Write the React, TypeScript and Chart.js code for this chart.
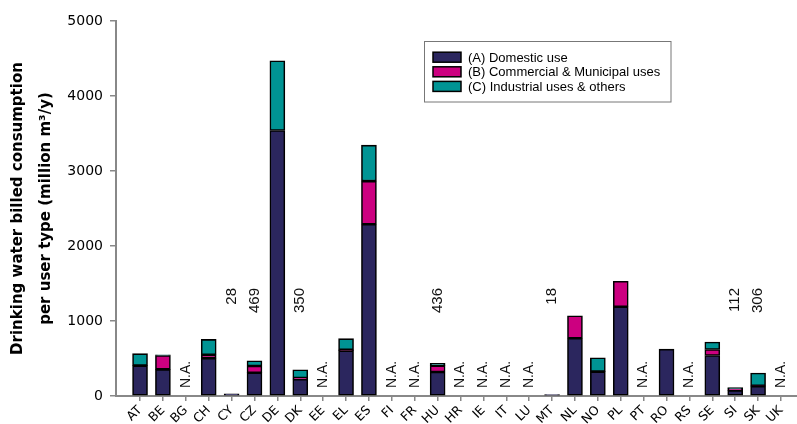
import React, { useEffect, useRef } from 'react';
import { Chart, registerables } from 'chart.js';

Chart.register(...registerables);

const categories = ['AT', 'BE', 'BG', 'CH', 'CY', 'CZ', 'DE', 'DK', 'EE', 'EL', 'ES', 'FI', 'FR', 'HU', 'HR', 'IE', 'IT', 'LU', 'MT', 'NL', 'NO', 'PL', 'PT', 'RO', 'RS', 'SE', 'SI', 'SK', 'UK'];
const domestic = [405, 355, null, 505, 28, 311, 3540, 225, null, 605, 2290, null, null, 320, null, null, null, null, 18, 770, 325, 1190, null, 625, null, 540, 75, 130, null];
const commercial = [0, 185, null, 45, 0, 89, 0, 15, null, 10, 575, null, null, 85, null, null, null, null, 0, 300, 0, 340, null, 0, null, 80, 20, 6, null];
const industrial = [160, 8, null, 205, 0, 69, 930, 110, null, 150, 480, null, null, 31, null, null, null, null, 0, 0, 185, 0, null, 0, null, 100, 17, 170, null];

const naCountries = ['BG', 'EE', 'FI', 'FR', 'HR', 'IE', 'IT', 'LU', 'PT', 'RS', 'UK'];
const noteCountries = ['CY', 'CZ', 'DK', 'HU', 'MT', 'SI', 'SK'];
const noteTexts = ['28', '469', '350', '436', '18', '112', '306'];

const yTicks = [0, 1000, 2000, 3000, 4000, 5000];
const seriesNames = ['(A) Domestic use', '(B) Commercial & Municipal uses', '(C) Industrial uses & others'];
const seriesColors = ['#2B265E', '#CC0080', '#009494'];
const yTitle = ['Drinking water billed consumption', 'per user type (million m\u00B3/y)'];

const SANS = '"DejaVu Sans", Verdana, sans-serif';
const ARIAL = '"Liberation Sans", Arial, sans-serif';

export default function App() {
  const ref = useRef<HTMLCanvasElement>(null);

  useEffect(() => {
    if (!ref.current) return;
    const toPoints = (arr: (number | null)[]) => arr.map((v, i) => ({ x: i + 1, y: v }));

    const annotations = {
      id: 'annotations',
      afterDatasetsDraw(chart: any) {
        const { ctx } = chart;
        const xs = chart.scales.x;
        const ys = chart.scales.y;
        ctx.save();
        ctx.fillStyle = '#111';
        ctx.textBaseline = 'middle';
        ctx.font = '14px ' + ARIAL;
        naCountries.forEach((c) => {
          const idx = categories.indexOf(c);
          const x = xs.getPixelForValue(idx + 1);
          const y = ys.getPixelForValue(0) - 8;
          ctx.save();
          ctx.translate(x, y);
          ctx.rotate(-Math.PI / 2);
          ctx.textAlign = 'left';
          ctx.fillText('N.A.', 0, 0);
          ctx.restore();
        });
        ctx.font = '15px ' + ARIAL;
        noteCountries.forEach((c, k) => {
          const idx = categories.indexOf(c);
          const x = xs.getPixelForValue(idx + 1);
          const y = ys.getPixelForValue(1440);
          ctx.save();
          ctx.translate(x, y);
          ctx.rotate(-Math.PI / 2);
          ctx.textAlign = 'right';
          ctx.fillText(noteTexts[k], 0, 0);
          ctx.restore();
        });
        ctx.restore();
      },
    };

    const boxLegend = {
      id: 'boxLegend',
      afterDraw(chart: any) {
        const { ctx } = chart;
        ctx.save();
        ctx.fillStyle = '#fff';
        ctx.fillRect(424.5, 41.5, 246.5, 60.5);
        ctx.strokeStyle = '#777';
        ctx.lineWidth = 1;
        ctx.strokeRect(424.5, 41.5, 246.5, 60.5);
        chart.data.datasets.forEach((ds: any, i: number) => {
          const cy = 57.2 + i * 14.6;
          ctx.fillStyle = ds.backgroundColor;
          ctx.fillRect(433, cy - 5, 28, 10);
          ctx.strokeStyle = '#000';
          ctx.lineWidth = 1.5;
          ctx.strokeRect(433, cy - 5, 28, 10);
          ctx.fillStyle = '#000';
          ctx.font = '13px ' + ARIAL;
          ctx.textBaseline = 'middle';
          ctx.textAlign = 'left';
          ctx.fillText(ds.label, 468, cy + 0.8);
        });
        ctx.restore();
      },
    };

    const chart = new Chart(ref.current, {
      type: 'bar',
      data: {
        datasets: [
          { label: seriesNames[0], data: toPoints(domestic), backgroundColor: seriesColors[0] },
          { label: seriesNames[1], data: toPoints(commercial), backgroundColor: seriesColors[1] },
          { label: seriesNames[2], data: toPoints(industrial), backgroundColor: seriesColors[2] },
        ] as any,
      },
      options: {
        responsive: false,
        animation: false,
        layout: { padding: { top: 21, right: 0, bottom: 0, left: 0 } },
        plugins: { legend: { display: false }, tooltip: { enabled: false } },
        datasets: {
          bar: { barThickness: 15, borderWidth: 1.6, borderColor: '#000', borderSkipped: false } as any,
        },
        scales: {
          x: {
            type: 'linear',
            stacked: true,
            offset: false,
            min: -0.05,
            max: 29.7,
            afterBuildTicks: (s: any) => {
              s.ticks = categories.map((_, i) => ({ value: i + 1 }));
            },
            afterFit: (s: any) => {
              s.height = 28;
            },
            grid: { offset: false, drawOnChartArea: false, tickLength: 5, lineWidth: 1.5, tickColor: '#888' },
            border: { color: '#888', width: 2 },
            ticks: {
              autoSkip: false,
              maxRotation: 45,
              minRotation: 45,
              padding: 2,
              color: '#000',
              font: { family: SANS, size: 12.5 },
              callback: (v: any) => categories[Math.round(v) - 1] ?? '',
            },
          } as any,
          y: {
            type: 'linear',
            stacked: true,
            min: 0,
            max: 5000,
            afterBuildTicks: (s: any) => {
              s.ticks = yTicks.map((v) => ({ value: v }));
            },
            afterFit: (s: any) => {
              s.width = 116;
            },
            grid: { drawOnChartArea: false, tickLength: 6, lineWidth: 1.5, tickColor: '#888' },
            border: { color: '#888', width: 2 },
            ticks: { padding: 7, color: '#000', font: { family: SANS, size: 14 }, callback: (v: any) => String(v) },
            title: {
              display: true,
              text: yTitle,
              color: '#000',
              font: { family: SANS, size: 15, weight: 'bold', lineHeight: 1.87 },
              padding: { top: 4, bottom: 0 },
            },
          } as any,
        },
      },
      plugins: [annotations, boxLegend],
    });
    return () => chart.destroy();
  }, []);

  return (
    <div style={{ position: 'absolute', left: 0, top: 0, width: 797, height: 424 }}>
      <canvas ref={ref} width={797} height={424} style={{ display: 'block' }} />
    </div>
  );
}
